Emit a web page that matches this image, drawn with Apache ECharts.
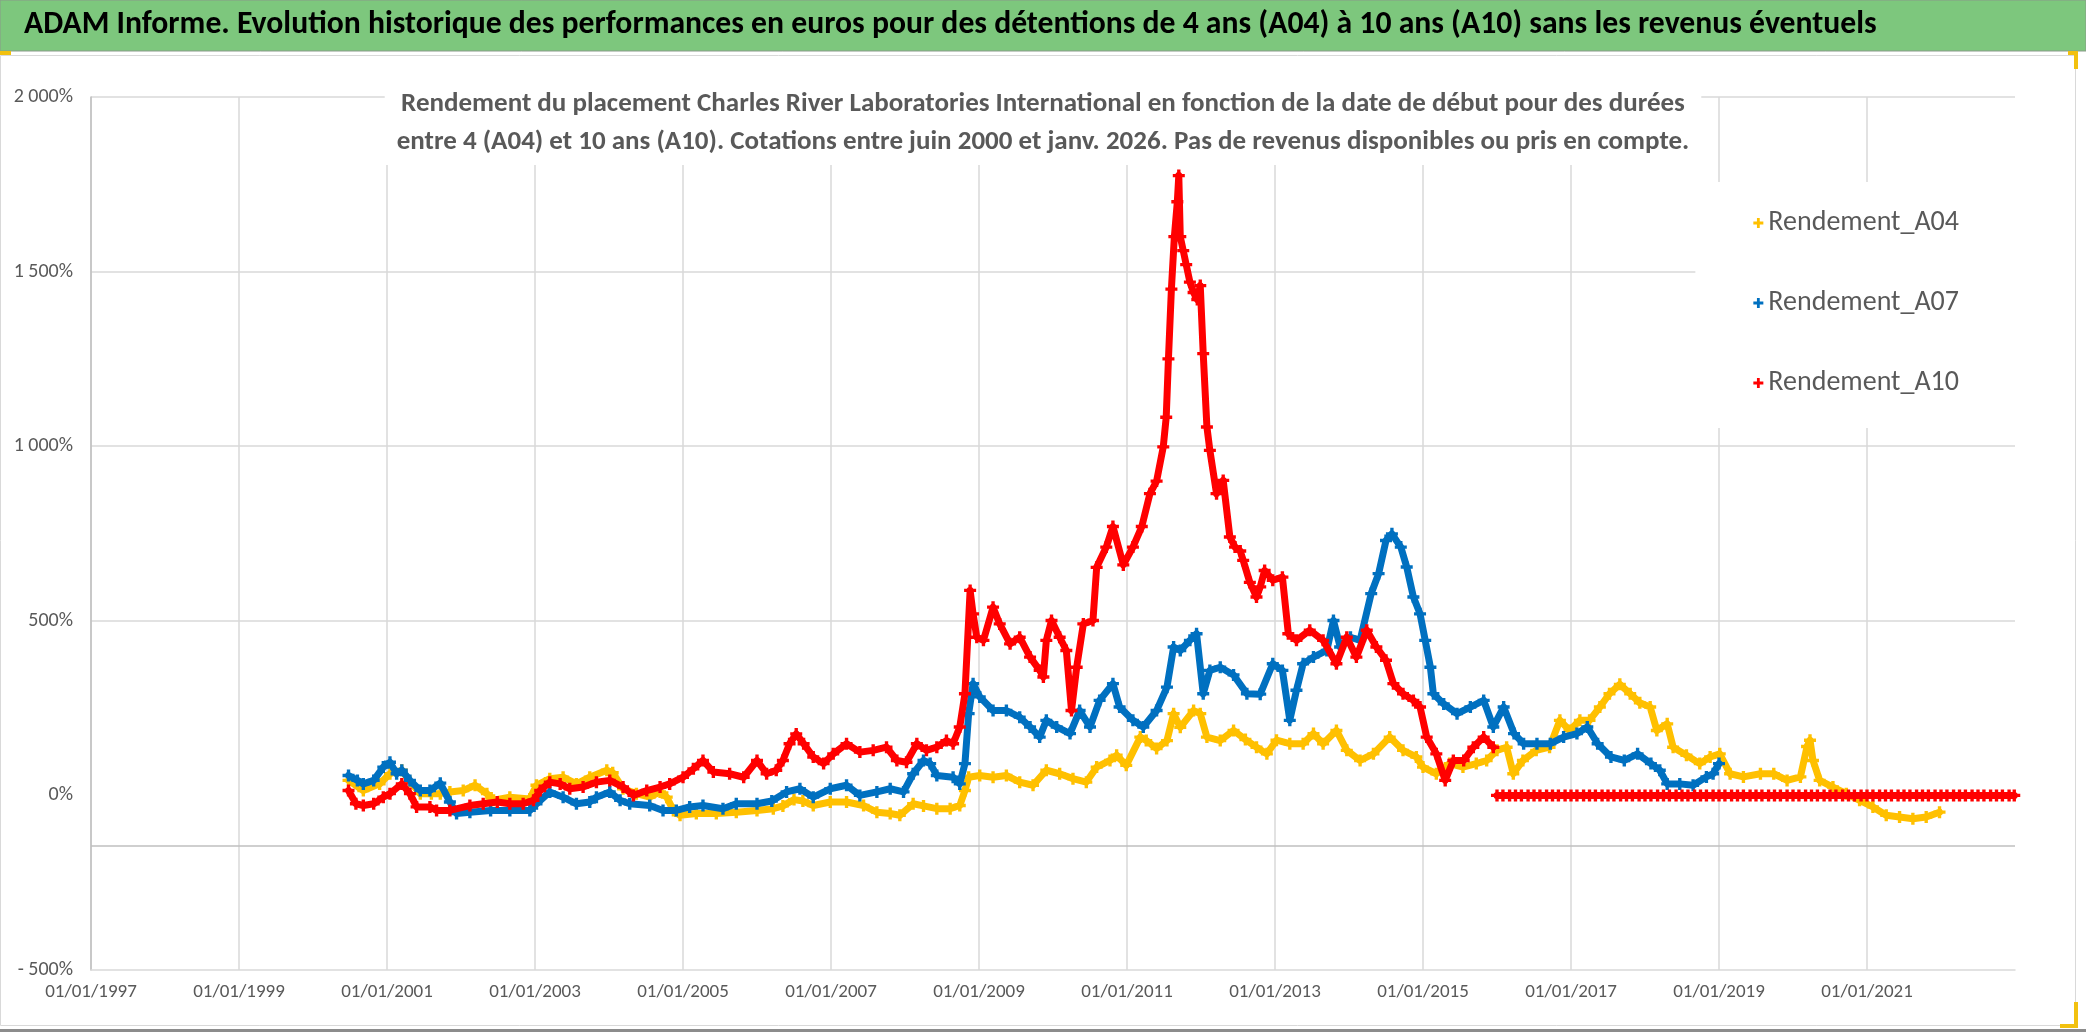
<!DOCTYPE html>
<html><head><meta charset="utf-8">
<script src="https://cdn.jsdelivr.net/npm/echarts@6/dist/echarts.min.js"></script>
<style>html,body{margin:0;padding:0;background:#fff}#c{width:2086px;height:1032px}</style>
</head><body><div id="c"></div>
<script>
// ---- Data (x = decimal year of start date, y = return in %) ----
const a04 = [[2000.48,43],[2000.68,14],[2000.9,33],[2001.04,62],[2001.2,72],[2001.31,40],[2001.45,5],[2001.6,5],[2001.72,5],[2001.85,10],[2002.03,14],[2002.19,29],[2002.35,5],[2002.44,-14],[2002.66,-5],[2002.93,-10],[2003.02,29],[2003.2,48],[2003.38,52],[2003.56,33],[2003.74,52],[2003.97,72],[2004.05,65],[2004.19,19],[2004.37,5],[2004.55,-5],[2004.69,10],[2004.78,-5],[2004.87,-43],[2004.96,-57],[2005.18,-52],[2005.45,-52],[2005.72,-48],[2006.0,-43],[2006.22,-38],[2006.35,-30],[2006.5,-12],[2006.62,-16],[2006.76,-29],[2006.99,-19],[2007.21,-19],[2007.44,-29],[2007.62,-48],[2007.8,-52],[2007.93,-57],[2008.11,-24],[2008.25,-30],[2008.43,-38],[2008.61,-38],[2008.74,-29],[2008.81,14],[2008.86,52],[2009.01,57],[2009.19,52],[2009.37,57],[2009.55,38],[2009.73,29],[2009.91,72],[2010.09,62],[2010.27,48],[2010.45,38],[2010.59,81],[2010.77,100],[2010.86,115],[2010.99,86],[2011.18,167],[2011.26,157],[2011.4,134],[2011.54,157],[2011.63,234],[2011.72,195],[2011.9,243],[2011.99,234],[2012.08,167],[2012.26,157],[2012.44,186],[2012.6,160],[2012.75,138],[2012.89,119],[2013.02,158],[2013.2,148],[2013.38,148],[2013.52,177],[2013.65,148],[2013.83,186],[2013.97,129],[2014.15,100],[2014.33,119],[2014.55,167],[2014.73,129],[2014.91,110],[2015.0,81],[2015.18,62],[2015.36,91],[2015.54,81],[2015.72,91],[2015.86,100],[2016.0,129],[2016.13,138],[2016.22,62],[2016.35,100],[2016.53,129],[2016.71,138],[2016.85,215],[2016.98,186],[2017.12,215],[2017.25,215],[2017.39,253],[2017.52,291],[2017.66,318],[2017.8,291],[2017.93,265],[2018.07,253],[2018.16,186],[2018.3,205],[2018.38,138],[2018.56,115],[2018.74,91],[2018.88,110],[2019.01,119],[2019.15,62],[2019.33,53],[2019.56,62],[2019.74,62],[2019.92,43],[2020.1,53],[2020.19,140],[2020.23,158],[2020.27,100],[2020.36,43],[2020.54,24],[2020.72,5],[2020.9,-14],[2021.08,-33],[2021.26,-57],[2021.44,-62],[2021.62,-67],[2021.8,-62],[2021.98,-48]];

const a07 = [[2000.48,57],[2000.6,43],[2000.68,33],[2000.82,43],[2000.95,81],[2001.04,95],[2001.13,62],[2001.2,72],[2001.31,43],[2001.45,14],[2001.58,14],[2001.72,35],[2001.85,-19],[2001.94,-52],[2002.12,-48],[2002.4,-43],[2002.66,-43],[2002.93,-43],[2003.02,-24],[2003.2,10],[2003.38,-5],[2003.56,-24],[2003.74,-19],[2003.83,-5],[2004.01,10],[2004.15,-14],[2004.28,-24],[2004.55,-29],[2004.73,-43],[2004.91,-43],[2005.09,-33],[2005.27,-29],[2005.54,-38],[2005.72,-24],[2006.0,-24],[2006.2,-16],[2006.4,10],[2006.58,19],[2006.76,-5],[2006.99,19],[2007.21,29],[2007.39,0],[2007.62,10],[2007.8,19],[2007.98,10],[2008.11,62],[2008.25,100],[2008.34,91],[2008.43,57],[2008.65,52],[2008.74,33],[2008.81,91],[2008.86,234],[2008.92,320],[2009.01,282],[2009.19,243],[2009.37,243],[2009.55,224],[2009.69,196],[2009.82,167],[2009.91,215],[2010.05,196],[2010.23,177],[2010.36,243],[2010.5,196],[2010.63,272],[2010.81,320],[2010.9,253],[2011.08,215],[2011.22,196],[2011.4,243],[2011.54,310],[2011.63,425],[2011.72,415],[2011.85,444],[2011.94,463],[2012.03,291],[2012.12,358],[2012.26,367],[2012.44,345],[2012.62,291],[2012.8,290],[2012.97,377],[2013.1,358],[2013.2,215],[2013.29,301],[2013.38,377],[2013.52,396],[2013.7,415],[2013.79,501],[2013.88,425],[2014.02,453],[2014.15,444],[2014.3,578],[2014.4,635],[2014.5,730],[2014.58,749],[2014.7,711],[2014.78,654],[2014.87,568],[2014.96,520],[2015.03,444],[2015.1,367],[2015.14,291],[2015.28,262],[2015.46,234],[2015.64,253],[2015.82,272],[2015.95,196],[2016.09,253],[2016.23,177],[2016.36,148],[2016.54,148],[2016.72,148],[2016.9,167],[2017.08,177],[2017.22,196],[2017.36,148],[2017.54,110],[2017.72,100],[2017.9,119],[2018.08,91],[2018.2,72],[2018.3,33],[2018.47,33],[2018.65,29],[2018.83,53],[2018.92,62],[2019.0,91]];

const a10 = [[2000.48,14],[2000.58,-24],[2000.68,-29],[2000.82,-24],[2000.95,-5],[2001.04,5],[2001.2,33],[2001.31,5],[2001.4,-33],[2001.58,-33],[2001.67,-43],[2001.85,-43],[2002.12,-29],[2002.3,-24],[2002.49,-19],[2002.66,-24],[2002.84,-24],[2002.98,-14],[2003.07,14],[2003.2,38],[2003.34,33],[2003.47,19],[2003.65,24],[2003.83,38],[2004.01,43],[2004.19,24],[2004.33,0],[2004.51,14],[2004.69,24],[2004.82,33],[2005.0,52],[2005.14,76],[2005.27,100],[2005.41,67],[2005.63,62],[2005.82,52],[2006.0,100],[2006.13,62],[2006.26,72],[2006.35,100],[2006.44,148],[2006.53,176],[2006.63,148],[2006.76,110],[2006.9,91],[2007.03,119],[2007.21,148],[2007.39,124],[2007.57,129],[2007.75,138],[2007.89,100],[2008.02,95],[2008.16,148],[2008.29,129],[2008.43,138],[2008.56,157],[2008.65,148],[2008.74,196],[2008.81,291],[2008.88,587],[2008.92,520],[2008.97,453],[2009.06,444],[2009.19,539],[2009.28,491],[2009.42,434],[2009.55,453],[2009.69,396],[2009.82,358],[2009.87,339],[2009.91,444],[2009.98,501],[2010.09,453],[2010.18,415],[2010.25,243],[2010.32,367],[2010.41,491],[2010.54,501],[2010.59,653],[2010.72,711],[2010.81,770],[2010.95,660],[2011.08,711],[2011.2,770],[2011.31,864],[2011.4,900],[2011.49,998],[2011.53,1083],[2011.56,1250],[2011.6,1450],[2011.64,1600],[2011.68,1700],[2011.7,1775],[2011.72,1600],[2011.76,1560],[2011.8,1520],[2011.85,1470],[2011.9,1440],[2011.95,1420],[2011.99,1460],[2012.03,1265],[2012.08,1055],[2012.12,988],[2012.21,864],[2012.3,902],[2012.39,740],[2012.46,711],[2012.53,700],[2012.57,673],[2012.66,610],[2012.75,568],[2012.8,597],[2012.86,644],[2012.97,616],[2013.1,625],[2013.18,463],[2013.29,444],[2013.47,473],[2013.65,444],[2013.83,377],[2013.97,453],[2014.1,396],[2014.24,473],[2014.37,425],[2014.5,387],[2014.6,320],[2014.73,291],[2014.87,272],[2014.96,253],[2015.05,167],[2015.18,119],[2015.3,43],[2015.41,100],[2015.55,100],[2015.68,138],[2015.82,167],[2015.95,138]];

const a10Zero = [[2016.0,0],[2016.08,0],[2016.17,0],[2016.25,0],[2016.33,0],[2016.42,0],[2016.5,0],[2016.58,0],[2016.67,0],[2016.75,0],[2016.83,0],[2016.92,0],[2017.0,0],[2017.08,0],[2017.17,0],[2017.25,0],[2017.33,0],[2017.42,0],[2017.5,0],[2017.58,0],[2017.67,0],[2017.75,0],[2017.83,0],[2017.92,0],[2018.0,0],[2018.08,0],[2018.17,0],[2018.25,0],[2018.33,0],[2018.42,0],[2018.5,0],[2018.58,0],[2018.67,0],[2018.75,0],[2018.83,0],[2018.92,0],[2019.0,0],[2019.08,0],[2019.17,0],[2019.25,0],[2019.33,0],[2019.42,0],[2019.5,0],[2019.58,0],[2019.67,0],[2019.75,0],[2019.83,0],[2019.92,0],[2020.0,0],[2020.08,0],[2020.17,0],[2020.25,0],[2020.33,0],[2020.42,0],[2020.5,0],[2020.58,0],[2020.67,0],[2020.75,0],[2020.83,0],[2020.92,0],[2021.0,0],[2021.08,0],[2021.17,0],[2021.25,0],[2021.33,0],[2021.42,0],[2021.5,0],[2021.58,0],[2021.67,0],[2021.75,0],[2021.83,0],[2021.92,0],[2022.0,0],[2022.08,0],[2022.17,0],[2022.25,0],[2022.33,0],[2022.42,0],[2022.5,0],[2022.58,0],[2022.67,0],[2022.75,0],[2022.83,0],[2022.92,0],[2022.99,0]];

const seriesNames = ['Rendement_A04','Rendement_A07','Rendement_A10'];
const xTickYears = {min:1997, max:2023, step:2};
const yTicks = {min:-500, max:2000, step:500};
const axisCrossValue = -145;
const titleText = 'ADAM Informe. Evolution historique des performances en euros pour des détentions de 4 ans (A04) à 10 ans (A10) sans les revenus éventuels';
const subtitleText = 'Rendement du placement Charles River Laboratories International en fonction de la date de début pour des durées\nentre 4 (A04) et 10 ans (A10). Cotations entre juin 2000 et janv. 2026. Pas de revenus disponibles ou pris en compte.';

// ---- Styles ----
const FONT = "Carlito, 'Liberation Sans Narrow', 'DejaVu Sans Condensed', sans-serif";
const GRAY = '#595959';
const colors = ['#FFC000','#0070C0','#FF0000'];
const plus = 'path://M3.6,0H6.4V3.6H10V6.4H6.4V10H3.6V6.4H0V3.6H3.6Z';

function fmtY(v){
  const a = Math.abs(v);
  const s = a >= 1000 ? Math.floor(a/1000) + ' ' + String(a%1000).padStart(3,'0') : String(a);
  return (v < 0 ? '- ' : '') + s + '%';
}

function mkSeries(name, data, color, extra){
  return Object.assign({
    name, type:'line', data, color,
    symbol: plus, symbolSize: 12, showAllSymbol: true,
    lineStyle:{width:7, color, join:'round', cap:'round'}, itemStyle:{color},
    emphasis:{disabled:true}, animation:false
  }, extra||{});
}

const chart = echarts.init(document.getElementById('c'), null, {renderer:'canvas'});
chart.setOption({
  backgroundColor:'#ffffff',
  animation:false,
  graphic:[
    {type:'rect', z:-10, shape:{x:0.5,y:55.5,width:2075,height:970}, style:{fill:'#fff', stroke:'#d9d9d9', lineWidth:1}},
    {type:'rect', z:-9, shape:{x:0,y:0,width:2086,height:51}, style:{fill:'#7dc77d', stroke:'#8a9a8a', lineWidth:1}},
    {type:'rect', z:-8, shape:{x:0,y:51,width:11,height:4}, style:{fill:'#f2c10f'}},
    {type:'rect', z:-8, shape:{x:2068,y:51,width:10,height:4}, style:{fill:'#f2c10f'}},
    {type:'rect', z:-8, shape:{x:2074,y:51,width:4,height:18}, style:{fill:'#f2c10f'}},
    {type:'rect', z:-8, shape:{x:2074,y:1002,width:4,height:26}, style:{fill:'#f2c10f'}},
    {type:'rect', z:-8, shape:{x:2060,y:1024,width:18,height:4}, style:{fill:'#f2c10f'}},
    {type:'rect', z:-8, shape:{x:0,y:1029,width:2086,height:3}, style:{fill:'#8c8c8c'}}
  ],
  title:[
    {text:titleText, left:24, top:9, padding:0,
     textStyle:{fontFamily:FONT, fontWeight:'bold', fontSize:31.7, color:'#000'}},
    {text:subtitleText, left:'center', top:82, padding:[3,12,4,12], backgroundColor:'#ffffff',
     textStyle:{fontFamily:FONT, fontWeight:'bold', fontSize:27, lineHeight:38, color:GRAY, align:'center'}}
  ],
  legend:{
    data: seriesNames.map(n=>({name:n, icon:plus})),
    orient:'vertical', right:71, top:182,
    padding:[26,56,30,58], backgroundColor:'#ffffff',
    itemWidth:10, itemHeight:10, itemGap:50,
    textStyle:{fontFamily:FONT, fontSize:28, color:GRAY, lineHeight:30},
    selectedMode:false
  },
  grid:{left:91, right:71, top:97, bottom:62, containLabel:false},
  xAxis:{
    type:'value', min:xTickYears.min, max:xTickYears.max, interval:xTickYears.step,
    axisLine:{show:true, onZero:false, lineStyle:{color:'#d9d9d9', width:1.5}},
    axisTick:{show:false},
    axisLabel:{fontFamily:FONT, fontSize:19, color:GRAY, margin:13, showMaxLabel:false,
      formatter:v=>Number.isInteger(v) && v < xTickYears.max ? '01/01/' + v : ''},
    splitLine:{show:true, showMaxLine:false, lineStyle:{color:'#d9d9d9', width:1.5}}
  },
  yAxis:{
    type:'value', min:yTicks.min, max:yTicks.max, interval:yTicks.step,
    axisLine:{show:true, lineStyle:{color:'#bfbfbf', width:1.5}},
    axisTick:{show:false},
    axisLabel:{fontFamily:FONT, fontSize:20, color:GRAY, margin:18, formatter:fmtY},
    splitLine:{show:true, lineStyle:{color:['transparent','transparent','#d9d9d9','#d9d9d9','#d9d9d9','#d9d9d9'], width:1.5}}
  },
  series:[
    mkSeries(seriesNames[0], a04, colors[0], {z:2,
      markLine:{silent:true, symbol:'none', label:{show:false}, animation:false,
        lineStyle:{color:'#bfbfbf', type:'solid', width:1.5}, data:[{yAxis:axisCrossValue}]}}),
    mkSeries(seriesNames[1], a07, colors[1], {z:3}),
    mkSeries(seriesNames[2], a10, colors[2], {z:4}),
    mkSeries(seriesNames[2], a10Zero, colors[2], {z:4})
  ]
});
</script></body></html>
